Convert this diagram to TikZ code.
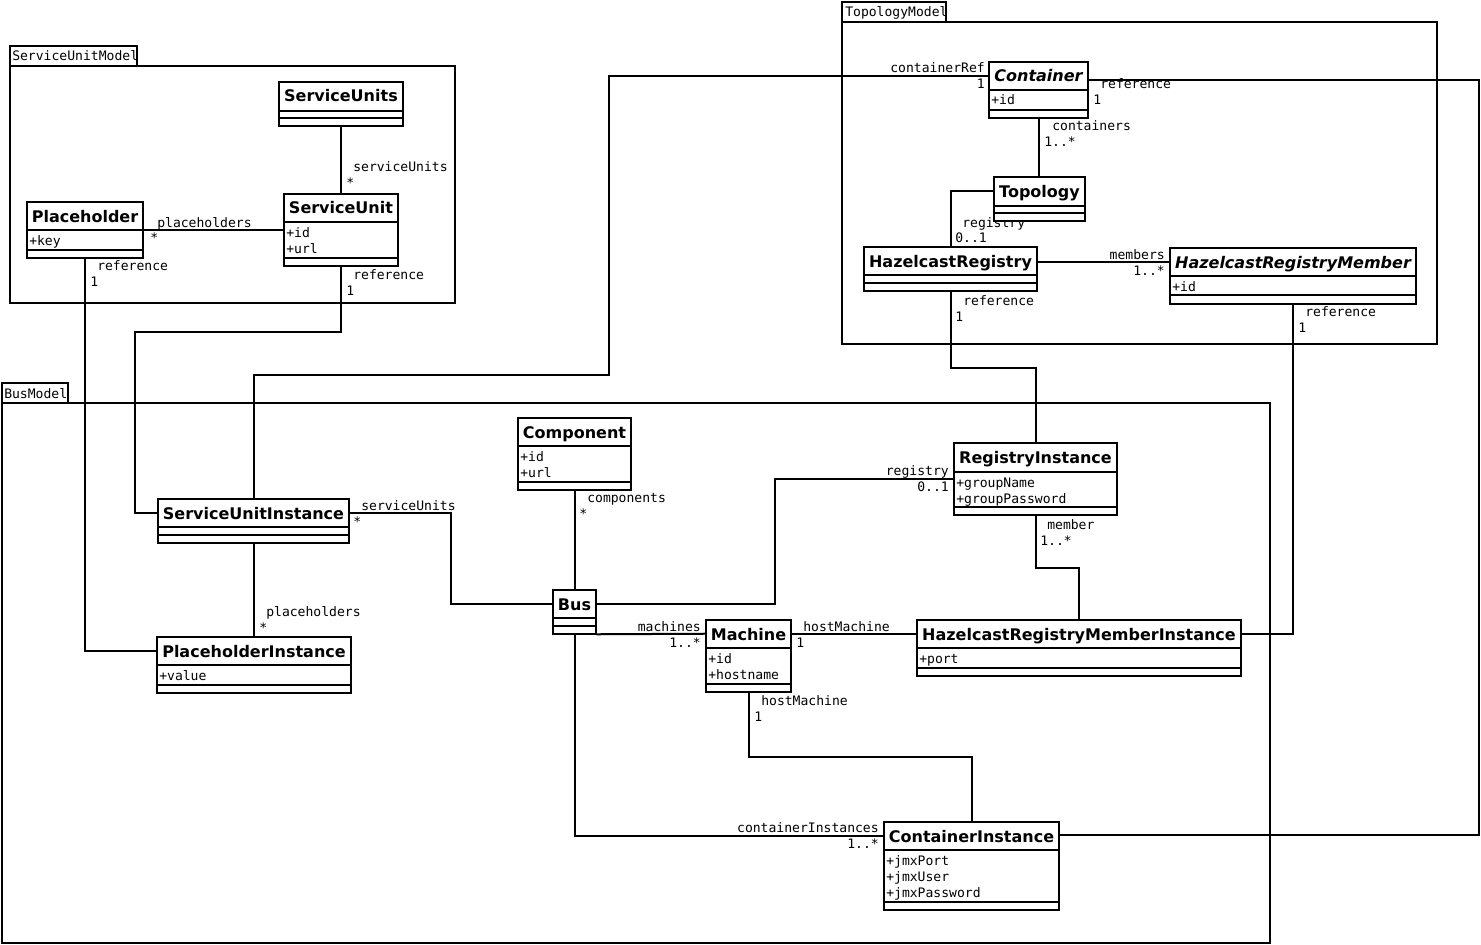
\documentclass[tikz,border=0pt]{standalone}
\usepackage{fontspec}
\setmainfont{DejaVu Sans}
\newfontfamily\monof{DejaVu Sans Mono}
\usetikzlibrary{fit,calc}
\tikzset{
  ln/.style={line width=1.5pt},
  clsbox/.style={draw, fill=white, line width=1.5pt, inner sep=0pt},
  ttl/.style={font=\bfseries\fontsize{12}{14}\selectfont, inner sep=0pt, anchor=base},
  lbl/.style={font=\monof\fontsize{9.8}{12}\selectfont, inner sep=0pt},
  lw/.style={lbl, anchor=base west},
  le/.style={lbl, anchor=base east},
}
% id, x1, y1, x2, y2, sep1, sep2, title, attrs
\newcommand\uclass[9]{%
  \node[clsbox, fit={(#2,#3)(#4,#5)}] (#1) {};
  \draw[ln] (#2,#6) -- (#4,#6) (#2,#7) -- (#4,#7);
  \node[ttl] (#1-t) at ({(#2+#4)/2},#3+20) {#8};
  \foreach \a [count=\i] in {#9} {\node[lw] (#1-a\i) at (#2+2,{#6+15+16*(\i-1)}) {\a};}
}
\begin{document}
\begin{tikzpicture}[x=0.75pt,y=-0.75pt]
\useasboundingbox[fill=white] (0,0) rectangle (1481,945);

% ---------- packages ----------
\draw[ln] (10,46) rectangle (137,66);
\draw[ln] (10,66) rectangle (455,303);
\node[lw] (pk1) at (12,61) {ServiceUnitModel};
\draw[ln] (842,2) rectangle (946,22);
\draw[ln] (842,22) rectangle (1437,344);
\node[lw] (pk2) at (845,17) {TopologyModel};
\draw[ln] (2,383) rectangle (68,403);
\draw[ln] (2,403) rectangle (1270,943);
\node[lw] (pk3) at (4,398) {BusModel};

% ---------- classes (placeholders for anchors, drawn later again on top) ----------
\begin{pgfonlayer}{main}\end{pgfonlayer}
\path
  node[inner sep=0pt, fit={(279,82)(403,126)}] (sus) {}
  node[inner sep=0pt, fit={(284,194)(398,266)}] (su) {}
  node[inner sep=0pt, fit={(27,202)(143,258)}] (ph) {}
  node[inner sep=0pt, fit={(989,62)(1088,118)}] (ct) {}
  node[inner sep=0pt, fit={(994,177)(1085,221)}] (tp) {}
  node[inner sep=0pt, fit={(864,247)(1037,291)}] (hr) {}
  node[inner sep=0pt, fit={(1170,248)(1416,304)}] (hrm) {}
  node[inner sep=0pt, fit={(518,418)(631,490)}] (cp) {}
  node[inner sep=0pt, fit={(553,590)(596,634)}] (bus) {}
  node[inner sep=0pt, fit={(706,620)(791,692)}] (ma) {}
  node[inner sep=0pt, fit={(954,443)(1117,515)}] (ri) {}
  node[inner sep=0pt, fit={(917,620)(1241,676)}] (hrmi) {}
  node[inner sep=0pt, fit={(158,499)(349,543)}] (sui) {}
  node[inner sep=0pt, fit={(157,637)(351,693)}] (phi) {}
  node[inner sep=0pt, fit={(884,822)(1059,910)}] (ci) {};

% ---------- connectors ----------
\draw[ln] (sus.south) -- (su.north);
\draw[ln] (ph.east) -- (su.west);
\draw[ln] (ph.south) |- ($(phi.north west)+(0,14)$);
\draw[ln] (su.south) |- (135,332) |- ($(sui.north west)+(0,14)$);
\draw[ln] ($(ct.north west)+(0,14)$) -| (609,375) -| (sui.north);
\draw[ln] ($(ct.north east)+(0,18)$) -| ($(ci.north east)+(420,13)$) -- ($(ci.north east)+(0,13)$);
\draw[ln] (ct.south) -- (ct.south |- tp.north);
\draw[ln] ($(tp.north west)+(0,14)$) -| (hr.north);
\draw[ln] ($(hr.north east)+(0,15)$) -- ($(hrm.north west)+(0,14)$);
\draw[ln] (hr.south) -- ++(0,77) -| (ri.north);
\draw[ln] (hrm.south) |- ($(hrmi.north east)+(0,14)$);
\draw[ln] (cp.south) -- (bus.north);
\draw[ln] ($(bus.north east)+(0,14)$) -| ($(ri.north west)+(-179,36)$) -- ($(ri.north west)+(0,36)$);
\draw[ln] ($(sui.north east)+(0,14)$) -| ($(bus.north west)+(-102,14)$) -- ($(bus.north west)+(0,14)$);
\draw[ln] (bus.south east) -- ($(ma.north west)+(0,14)$);
\draw[ln] ($(ma.north east)+(0,14)$) -- ($(hrmi.north west)+(0,14)$);
\draw[ln] (ma.south) -- ++(0,65) -| (ci.north);
\draw[ln] (bus.south) |- ($(ci.north west)+(0,14)$);
\draw[ln] (ri.south) -- ++(0,53) -| (hrmi.north);
\draw[ln] (sui.south) -- (sui.south |- phi.north);

% ---------- connector labels ----------
\node[lw] (l1) at (353,172) {serviceUnits};
\node[lw] (m1) at (346,188) {*};
\node[lw] (l2) at (157,227) {placeholders};
\node[lw] (m2) at (150,243) {*};
\node[lw] (l3) at (97,270) {reference};
\node[lw] (m3) at (90,286) {1};
\node[lw] (l4) at (353,279) {reference};
\node[lw] (m4) at (346,295) {1};
\node[le] (l5) at (985,73) {containerRef};
\node[le] (m5) at (985,89) {1};
\node[lw] (l6) at (1100,89) {reference};
\node[lw] (m6) at (1093,105) {1};
\node[lw] (l7) at (1052,131) {containers};
\node[lw] (m7) at (1044,147) {1..*};
\node[lw] (l8) at (962,227) {registry};
\node[lw] (m8) at (955,243) {0..1};
\node[le] (l9) at (1165,259) {members};
\node[le] (m9) at (1165,275) {1..*};
\node[lw] (l10) at (963,305) {reference};
\node[lw] (m10) at (955,321) {1};
\node[lw] (l11) at (1305,316) {reference};
\node[lw] (m11) at (1298,332) {1};
\node[lw] (l12) at (587,502) {components};
\node[lw] (m12) at (579,518) {*};
\node[le] (l13) at (949,475) {registry};
\node[le] (m13) at (949,491) {0..1};
\node[lw] (l14) at (361,510) {serviceUnits};
\node[lw] (m14) at (353,526) {*};
\node[le] (l15) at (701,631) {machines};
\node[le] (m15) at (701,647) {1..*};
\node[lw] (l16) at (803,631) {hostMachine};
\node[lw] (m16) at (796,647) {1};
\node[lw] (l17) at (761,705) {hostMachine};
\node[lw] (m17) at (754,721) {1};
\node[le] (l18) at (879,832) {containerInstances};
\node[le] (m18) at (879,848) {1..*};
\node[lw] (l19) at (1047,529) {member};
\node[lw] (m19) at (1040,545) {1..*};
\node[lw] (l20) at (266,616) {placeholders};
\node[lw] (m20) at (259,632) {*};

% ---------- classes ----------
\uclass{sus}{279}{82}{403}{126}{111}{118}{ServiceUnits}{}
\uclass{su}{284}{194}{398}{266}{222}{258}{ServiceUnit}{+id,+url}
\uclass{ph}{27}{202}{143}{258}{230}{250}{Placeholder}{+key}
\uclass{ct}{989}{62}{1088}{118}{90}{110}{\itshape Container}{+id}
\uclass{tp}{994}{177}{1085}{221}{206}{213}{Topology}{}
\uclass{hr}{864}{247}{1037}{291}{275}{283}{HazelcastRegistry}{}
\uclass{hrm}{1170}{248}{1416}{304}{276}{295}{\itshape HazelcastRegistryMember}{+id}
\uclass{cp}{518}{418}{631}{490}{446}{482}{Component}{+id,+url}
\uclass{bus}{553}{590}{596}{634}{618}{626}{Bus}{}
\uclass{ma}{706}{620}{791}{692}{648}{684}{Machine}{+id,+hostname}
\uclass{ri}{954}{443}{1117}{515}{472}{507}{RegistryInstance}{+groupName,+groupPassword}
\uclass{hrmi}{917}{620}{1241}{676}{648}{668}{HazelcastRegistryMemberInstance}{+port}
\uclass{sui}{158}{499}{349}{543}{527}{535}{ServiceUnitInstance}{}
\uclass{phi}{157}{637}{351}{693}{665}{685}{PlaceholderInstance}{+value}
\uclass{ci}{884}{822}{1059}{910}{850}{902}{ContainerInstance}{+jmxPort,+jmxUser,+jmxPassword}
\end{tikzpicture}
\end{document}
